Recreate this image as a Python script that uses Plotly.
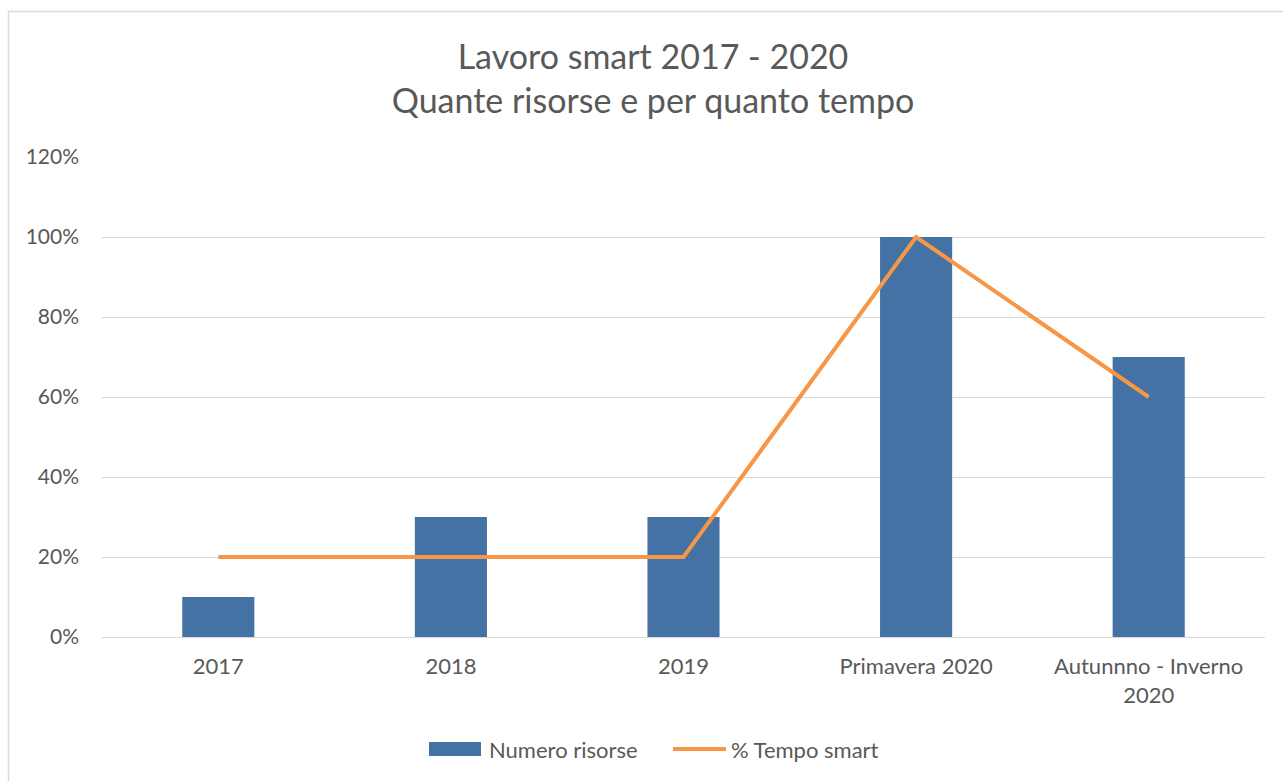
import plotly.graph_objects as go

categories = ["2017", "2018", "2019", "Primavera 2020", "Autunnno - Inverno<br>2020"]
numero_risorse = [0.10, 0.30, 0.30, 1.00, 0.70]
tempo_smart = [0.20, 0.20, 0.20, 1.00, 0.60]
y_ticks = [0, 0.2, 0.4, 0.6, 0.8, 1.0, 1.2]
y_tick_labels = ["0%", "20%", "40%", "60%", "80%", "100%", "120%"]

FONT = "Lato"
GRAY = "#595959"
BLUE = "#4472A4"
ORANGE = "#F79646"

fig = go.Figure()
fig.add_trace(go.Bar(
    x=categories, y=numero_risorse, name="Numero risorse",
    marker=dict(color=BLUE, line=dict(width=0)), width=0.31, showlegend=False,
))
fig.add_trace(go.Scatter(
    x=categories, y=tempo_smart, name="% Tempo smart", mode="lines",
    line=dict(color=ORANGE, width=4), showlegend=False,
))

L, R, T, B = 102, 18, 157, 144
W, H = 1283, 781
pw, ph = W - L - R, H - T - B


def px(x):
    return (x - L) / pw


def py(y):
    return 1 - (y - T) / ph


legend_y = 749
shapes = [
    dict(type="rect", xref="paper", yref="paper",
         x0=px(8.5), x1=px(W + 5), y0=py(H + 5), y1=py(11.5),
         line=dict(color="#D9D9D9", width=1.5), layer="below"),
    dict(type="rect", xref="paper", yref="paper",
         x0=px(429), x1=px(481), y0=py(756), y1=py(742),
         fillcolor=BLUE, line=dict(width=0)),
    dict(type="line", xref="paper", yref="paper",
         x0=px(673), x1=px(726), y0=py(legend_y), y1=py(legend_y),
         line=dict(color=ORANGE, width=4)),
]
annotations = [
    dict(text="Numero risorse", xref="paper", yref="paper", x=px(487), y=py(legend_y),
         xanchor="left", yanchor="middle", showarrow=False,
         font=dict(family=FONT, size=22, color=GRAY)),
    dict(text="% Tempo smart", xref="paper", yref="paper", x=px(729), y=py(legend_y),
         xanchor="left", yanchor="middle", showarrow=False,
         font=dict(family=FONT, size=22, color=GRAY)),
]

fig.update_layout(
    width=W, height=H,
    margin=dict(l=L, r=R, t=T, b=B),
    paper_bgcolor="white", plot_bgcolor="white",
    font=dict(family=FONT, color=GRAY, size=21),
    title=dict(
        text="Lavoro smart 2017 - 2020<br>Quante risorse e per quanto tempo",
        x=653 / W, xanchor="center", xref="container", y=1 - 69 / H, yanchor="middle",
        font=dict(family=FONT, size=34, color=GRAY),
    ),
    showlegend=False,
    xaxis=dict(showgrid=False, showline=False, ticks="", tickfont=dict(size=22, color=GRAY),
               ticklabelstandoff=14),
    yaxis=dict(range=[0, 1.2], tickvals=y_ticks, ticktext=y_tick_labels,
               showgrid=True, gridcolor="#D9D9D9", gridwidth=1.3, zeroline=True,
               zerolinecolor="#D9D9D9", zerolinewidth=1.3,
               showline=False, ticks="", tickfont=dict(size=21, color=GRAY),
               ticklabelstandoff=22),
    shapes=shapes,
    annotations=annotations,
)

fig.write_html("out.html", config={"displayModeBar": False},
               post_script="document.body.style.margin='0';")
